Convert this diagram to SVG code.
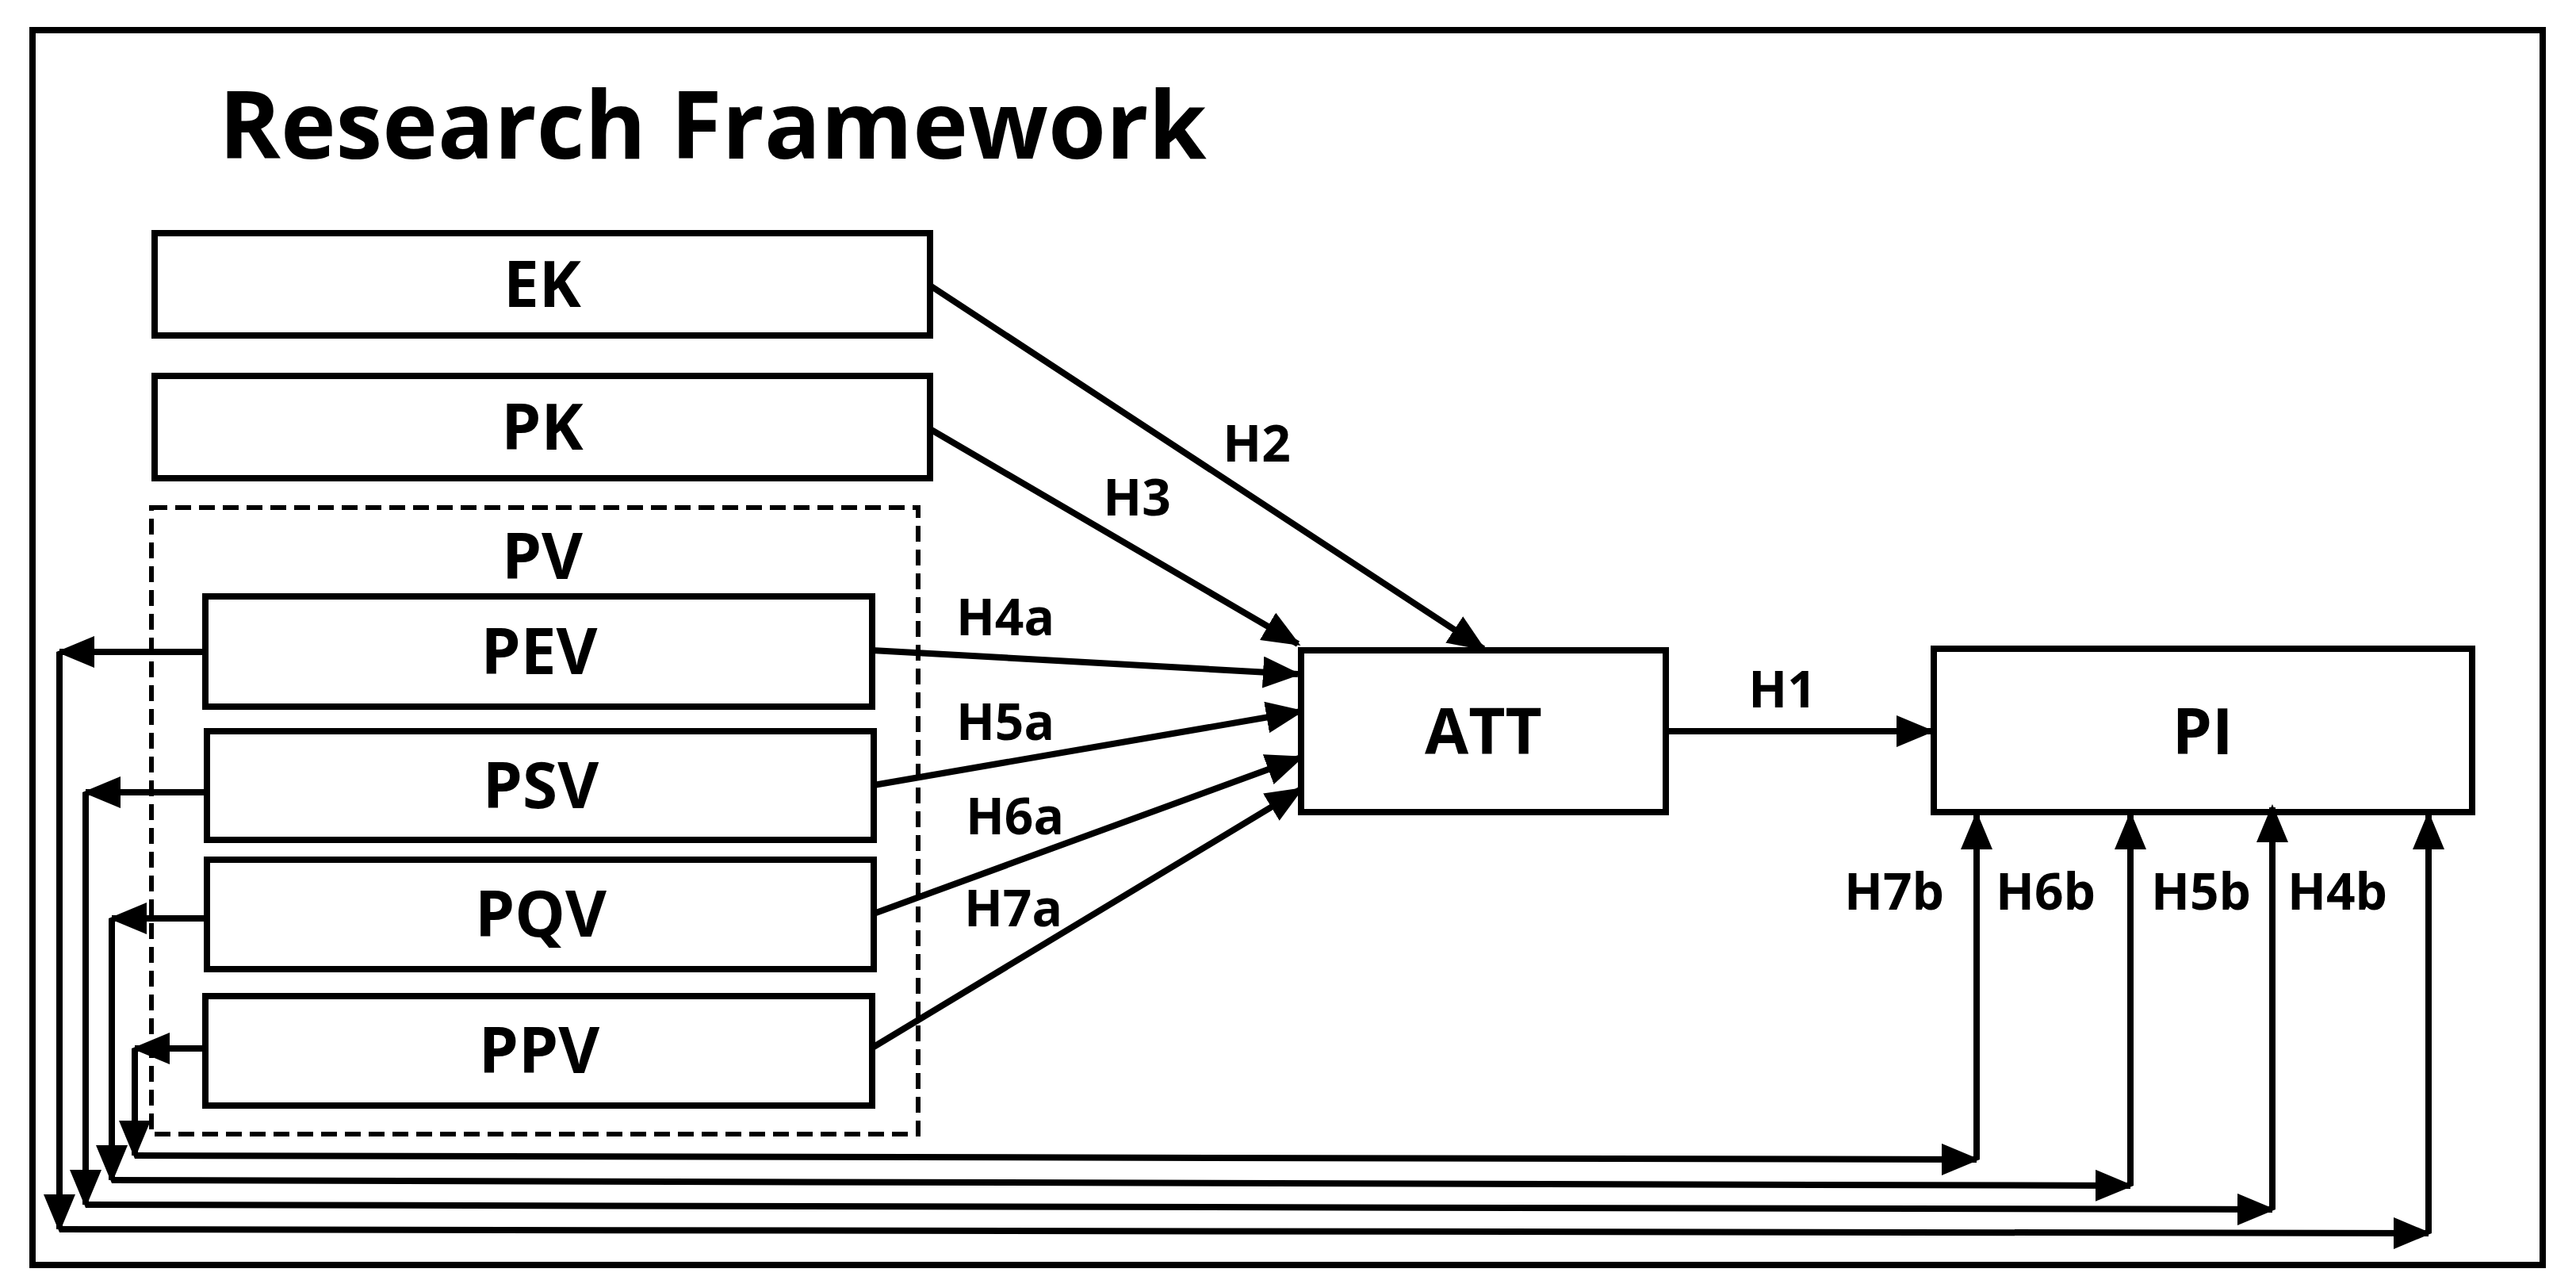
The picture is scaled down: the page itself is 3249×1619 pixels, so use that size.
<svg xmlns="http://www.w3.org/2000/svg" width="3249" height="1619" viewBox="0 0 3249 1619">
<style>
.b{fill:#fff;stroke:#000;stroke-width:8}
.t{font-family:"Open Sans","Liberation Sans",sans-serif;font-weight:bold;fill:#000;text-anchor:middle}
.n{font-size:80px}
.h{font-size:64px}
.c{fill:none;stroke:#000;stroke-width:8;marker-end:url(#a)}
</style>
<defs><marker id="a" markerWidth="6" markerHeight="5" refX="5.5" refY="2.5" orient="auto" markerUnits="strokeWidth"><path d="M0,0L6,2.5L0,5z" fill="#000"/></marker></defs>
<rect x="0" y="0" width="3249" height="1619" fill="#fff"/>
<rect x="41" y="38" width="3166" height="1557" fill="none" stroke="#000" stroke-width="8"/>
<text x="276" y="200" class="t" style="text-anchor:start;font-size:118px">Research Framework</text>
<g id="EK"><rect class="b" x="195" y="294" width="978" height="129"/><text class="t n" x="684" y="387">EK</text></g>
<g id="PK"><rect class="b" x="195" y="474" width="978" height="129"/><text class="t n" x="684" y="567">PK</text></g>
<g id="PV"><rect x="191" y="640" width="967" height="790" fill="none" stroke="#000" stroke-width="6" stroke-dasharray="20,10"/><text class="t n" x="684" y="730">PV</text></g>
<g id="PEV"><rect class="b" x="259" y="752" width="841" height="139"/><text class="t n" x="680" y="850">PEV</text></g>
<g id="PSV"><rect class="b" x="261" y="922" width="841" height="137"/><text class="t n" x="682" y="1019">PSV</text></g>
<g id="PQV"><rect class="b" x="261" y="1084" width="841" height="138"/><text class="t n" x="682" y="1181">PQV</text></g>
<g id="PPV"><rect class="b" x="259" y="1256" width="841" height="138"/><text class="t n" x="680" y="1353">PPV</text></g>
<g id="ATT"><rect class="b" x="1641" y="820" width="460" height="204"/><text class="t n" x="1871" y="951">ATT</text></g>
<g id="PI"><rect class="b" x="2439" y="818" width="679" height="206"/><text class="t n" x="2778" y="951">PI</text></g>
<g id="connectors">
<path class="c" d="M1173,360L1871,818"/>
<path class="c" d="M1173,541L1637,812"/>
<path class="c" d="M1100,820L1637,850"/>
<path class="c" d="M1102,990L1641,897"/>
<path class="c" d="M1102,1152L1641,955"/>
<path class="c" d="M1102,1320L1641,995"/>
<path class="c" d="M2101,922L2436,922"/>
<path class="c" d="M259,822L75,822"/><path class="c" d="M75,822L75,1550"/><path class="c" d="M75,1550L3063,1555"/><path class="c" d="M3063,1555L3063,1027"/>
<path class="c" d="M261,999L108,999"/><path class="c" d="M108,999L108,1519"/><path class="c" d="M108,1519L2866,1525"/><path class="c" d="M2866,1525L2866,1018"/>
<path class="c" d="M261,1158L141,1158"/><path class="c" d="M141,1158L141,1488"/><path class="c" d="M141,1488L2687,1495"/><path class="c" d="M2687,1495L2687,1027"/>
<path class="c" d="M259,1322L170,1322"/><path class="c" d="M170,1322L170,1457"/><path class="c" d="M170,1457L2493,1462"/><path class="c" d="M2493,1462L2493,1027"/>
</g>
<g class="t h">
<text x="1585" y="582">H2</text><text x="1434" y="650">H3</text>
<text x="1268" y="801">H4a</text><text x="1268" y="933">H5a</text><text x="1280" y="1052">H6a</text><text x="1278" y="1168">H7a</text>
<text x="2248" y="892">H1</text>
<text x="2389" y="1147">H7b</text><text x="2580" y="1147">H6b</text><text x="2776" y="1147">H5b</text><text x="2948" y="1147">H4b</text>
</g>
</svg>
